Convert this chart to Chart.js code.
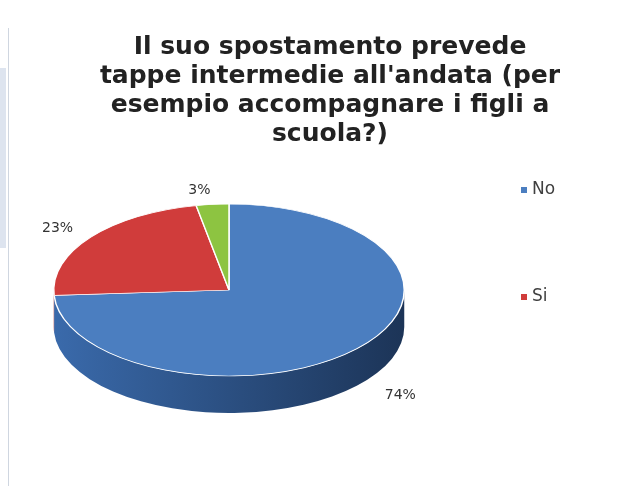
<!DOCTYPE html>
<html>
<head>
<meta charset="utf-8">
<script src="https://cdn.jsdelivr.net/npm/chart.js@4"></script>
<style>
  html, body { margin: 0; padding: 0; background: #fff; }
  #wrap { width: 640px; height: 486px; }
</style>
</head>
<body>
<div id="wrap"><canvas id="chart" width="640" height="486"></canvas></div>
<script>
const titleLines = [
  "Il suo spostamento prevede",
  "tappe intermedie all'andata (per",
  "esempio accompagnare i figli a",
  "scuola?)"
];
const categories = ["No", "Si", ""];
const shares = [74, 23, 3];
const topColors = ["#4b7ec0", "#d03c3b", "#8dc441"];
const sideColors = [["#3a6aab", "#1c3457"], ["#a82c2b", "#7a1f1f"], ["#6f9e30", "#527a22"]];

// look of the tilted pie
const RY = 86;
const DEPTH = 37;

// squash the pie into an ellipse and draw its side first
const tilt = {
  id: "tilt",
  beforeDatasetsDraw(chart) {
    const ctx = chart.ctx;
    const arcs = chart.getDatasetMeta(0).data;
    const { x, y, outerRadius: r } = arcs[0];
    const k = RY / r;
    ctx.save();
    ctx.translate(x, y);
    ctx.scale(1, k);
    ctx.translate(-x, -y);
    const d = DEPTH / k;
    arcs.forEach((arc, i) => {
      const a0 = Math.max(arc.startAngle, 0);
      const a1 = Math.min(arc.endAngle, Math.PI);
      if (a1 <= a0) return;
      ctx.beginPath();
      ctx.arc(x, y, r, a0, a1);
      ctx.arc(x, y + d, r, a1, a0, true);
      ctx.closePath();
      const g = ctx.createLinearGradient(x - r, 0, x + r, 0);
      g.addColorStop(0, sideColors[i][0]);
      g.addColorStop(1, sideColors[i][1]);
      ctx.fillStyle = g;
      ctx.fill();
    });
  },
  afterDatasetsDraw(chart) {
    chart.ctx.restore();
  },
  afterDraw(chart) {
    const ctx = chart.ctx;
    const arcs = chart.getDatasetMeta(0).data;
    const { x, y, outerRadius: r } = arcs[0];

    // left frame remnant of the screenshot
    ctx.save();
    ctx.fillStyle = "#dde4ef";
    ctx.fillRect(0, 68, 6, 180);
    ctx.strokeStyle = "#cfd6e0";
    ctx.lineWidth = 1;
    ctx.beginPath();
    ctx.moveTo(8.5, 28);
    ctx.lineTo(8.5, 486);
    ctx.stroke();

    // title
    ctx.fillStyle = "#222";
    ctx.font = "bold 25px 'DejaVu Sans'";
    ctx.textAlign = "center";
    ctx.textBaseline = "middle";
    titleLines.forEach((t, i) => ctx.fillText(t, 330, 47 + i * 29));

    // percent labels outside each slice
    ctx.font = "14px 'DejaVu Sans'";
    ctx.fillStyle = "#333";
    const total = shares.reduce((a, b) => a + b, 0);
    arcs.forEach((arc, i) => {
      const mid = (arc.startAngle + arc.endAngle) / 2;
      const c = Math.cos(mid), s = Math.sin(mid);
      const lx = x + r * c + c * 22 + (c > 0 ? 12 : 0);
      const ly = y + RY * s + s * 14 + (s > 0 ? DEPTH : 0);
      ctx.textAlign = c > 0 ? "left" : "right";
      ctx.fillText(Math.round(shares[i] / total * 100) + "%", lx, ly);
    });

    // legend, only named categories
    ctx.font = "17px 'DejaVu Sans'";
    ctx.textAlign = "left";
    categories.forEach((name, i) => {
      if (!name) return;
      const ly = 190 + i * 107;
      ctx.fillStyle = topColors[i];
      ctx.fillRect(521, ly - 3, 6, 6);
      ctx.fillStyle = "#404040";
      ctx.fillText(name, 532, ly);
    });
    ctx.restore();
  }
};

new Chart(document.getElementById("chart"), {
  type: "pie",
  data: {
    labels: categories,
    datasets: [{
      data: shares,
      backgroundColor: topColors,
      borderColor: "#ffffff",
      borderWidth: 1.5,
      hoverOffset: 0
    }]
  },
  options: {
    responsive: false,
    animation: false,
    devicePixelRatio: 1,
    layout: { padding: { top: 114, bottom: 20, left: 53, right: 235 } },
    plugins: {
      legend: { display: false },
      title: { display: false },
      tooltip: { enabled: false }
    }
  },
  plugins: [tilt]
});
</script>
</body>
</html>
